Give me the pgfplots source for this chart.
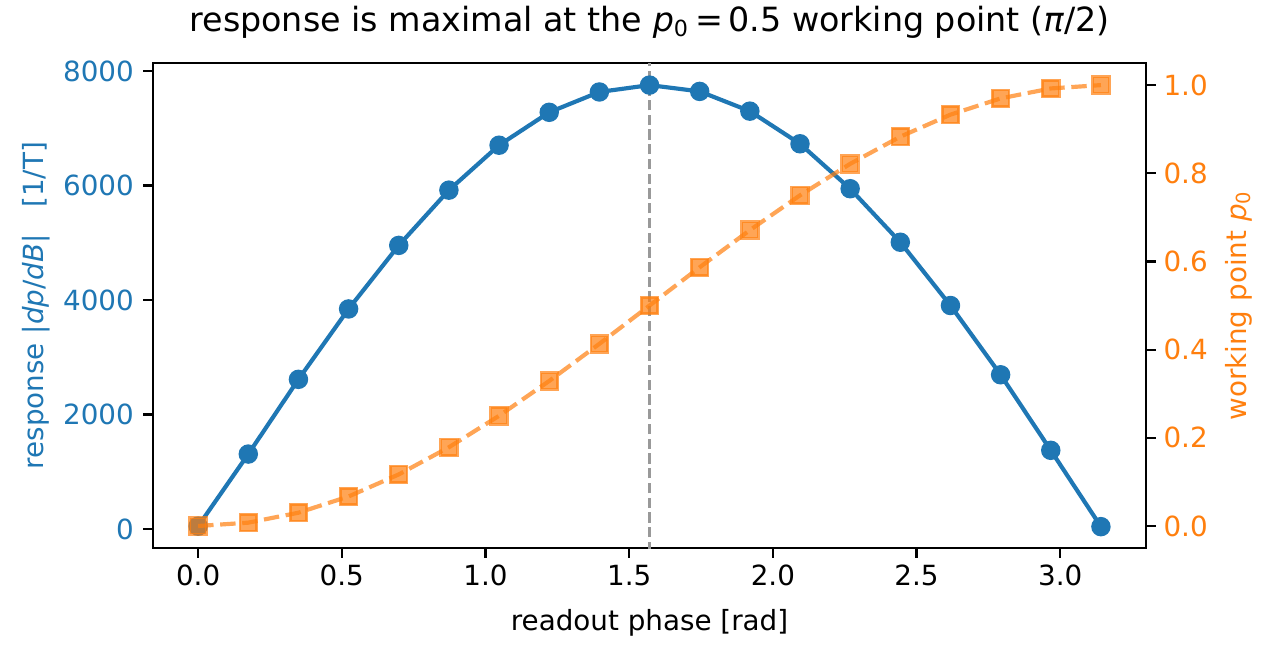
\documentclass[border=0pt]{standalone}
\usepackage{fontspec}
\setmainfont{DejaVu Sans}
\usepackage{pgfplots}
\pgfplotsset{compat=1.18}
\definecolor{mblue}{HTML}{1F77B4}
\definecolor{morange}{HTML}{FF7F0E}
\definecolor{mgray}{HTML}{999999}

\pgfplotstableread{
x      r     p
0.00000  50    0.00000
0.17453  1310  0.00760
0.34907  2615  0.03015
0.52360  3845  0.06699
0.69813  4955  0.11698
0.87266  5920  0.17861
1.04720  6705  0.25000
1.22173  7280  0.32899
1.39626  7635  0.41318
1.57080  7755  0.50000
1.74533  7645  0.58682
1.91986  7300  0.67101
2.09440  6730  0.75000
2.26893  5945  0.82139
2.44346  5010  0.88302
2.61799  3905  0.93301
2.79253  2695  0.96985
2.96706  1375  0.99240
3.14159  42    1.00000
}\datatable

\begin{document}
\begin{tikzpicture}
\pgfplotsset{
  common/.style={
    width=357.5pt, height=174.6pt, scale only axis,
    at={(0,0)}, anchor=south west,
    xmin=-0.15708, xmax=3.29867,
    tick align=outside,
    major tick length=3.5pt,
    every tick/.style={black, line width=0.8pt},
    axis line style={line width=0.8pt},
    tick label style={font=\fontsize{10}{12}\selectfont, inner sep=0pt},
    label style={font=\fontsize{10}{12}\selectfont},
    /pgf/number format/assume math mode=true,
  }
}
\begin{axis}[common,
  ymin=-332, ymax=8140,
  xtick={0,0.5,1,1.5,2,2.5,3},
  xticklabels={0.0,0.5,1.0,1.5,2.0,2.5,3.0},
  ytick={0,2000,4000,6000,8000},
  yticklabels={0,2000,4000,6000,8000},
  xtick pos=bottom, ytick pos=left,
  yticklabel style={text=mblue, xshift=-3.2pt},
  xticklabel style={yshift=-2.5pt},
  xlabel={readout phase [rad]},
  ylabel={response |\textit{dp}/\textit{dB}|\ \ \ [1/T]},
  xlabel style={at={(rel axis cs:0.5,-0.169)}, anchor=base},
  ylabel style={at={(rel axis cs:-0.1105,0.5)}, anchor=base, text=mblue},
  title={response is maximal at the \textit{p}\textsubscript{0}\,=\,0.5 working point (\textit{π}/2)},
  title style={at={(rel axis cs:0.5,1.0309)}, anchor=base, font=\fontsize{12}{14}\selectfont},
]
\addplot[mblue, line width=1.5pt, mark=*, mark size=3pt, mark options={line width=1pt, fill=mblue, draw=mblue}] table[x=x, y=r] {\datatable};
\addplot[mgray, line width=1pt, dash pattern=on 3.7pt off 1.6pt] coordinates {(1.5708,-400) (1.5708,8200)};
\end{axis}
\begin{axis}[common,
  ymin=-0.05, ymax=1.05,
  axis x line=none,
  axis y line*=right,
  ytick={0,0.2,0.4,0.6,0.8,1.0},
  yticklabels={0.0,0.2,0.4,0.6,0.8,1.0},
  yticklabel style={text=morange, xshift=2.6pt},
  ylabel={working point \textit{p}\textsubscript{0}},
  ylabel style={at={(rel axis cs:1.1007,0.5)}, anchor=base, text=morange},
]
\addplot[morange, opacity=0.7, line width=1.5pt, dash pattern=on 5.55pt off 2.4pt, mark=square*, mark size=3pt, mark options={solid, line width=1pt, fill=morange, draw=morange, fill opacity=0.7, draw opacity=0.7}] table[x=x, y=p] {\datatable};
\end{axis}
\pgfresetboundingbox
\useasboundingbox (-55.08pt,-38.52pt) rectangle (403.2pt,197.3pt);
\end{tikzpicture}
\end{document}
